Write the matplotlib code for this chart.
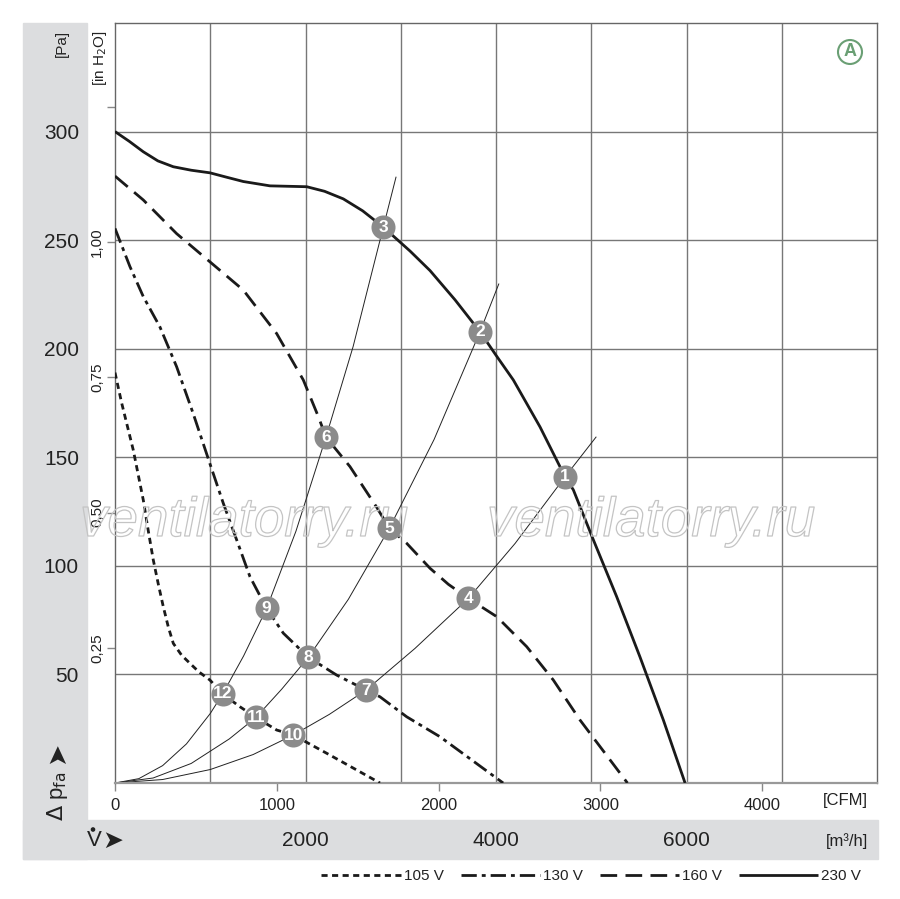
import numpy as np
import matplotlib
matplotlib.use('Agg')
from matplotlib import pyplot as plt
from matplotlib import patheffects
from matplotlib import transforms
from matplotlib.patches import Rectangle, Circle

plt.rcParams['font.family'] = ['Liberation Sans Narrow', 'Liberation Sans', 'DejaVu Sans']

# fan curves, flow in m3/h, static pressure in Pa
q_230 = [0, 150, 297, 450, 612, 800, 997, 1170, 1347, 1627, 1820, 2013, 2200, 2397, 2600, 2817,
         3097, 3307, 3570, 3832, 4000, 4182, 4462, 4725, 4812, 5022, 5267, 5512, 5757, 5985]
p_230 = [300, 295.5, 290.7, 286.5, 283.8, 282.2, 281, 279, 277, 275, 274.8, 274.6, 272.5, 269,
         263.5, 256, 245, 236, 222.5, 207.8, 197, 185.6, 164, 141, 135, 112, 85.8, 58, 29, 0]

q_160 = [0, 297, 647, 997, 1347, 1697, 1977, 2135, 2215, 2467, 2747, 2880, 3062, 3307, 3500,
         3710, 4008, 4322, 4602, 4882, 5380]
p_160 = [279.5, 268.5, 253, 240, 227, 207, 185.6, 168.7, 159.3, 145.7, 127, 117.3, 110.4, 98.9,
         91.5, 85, 76.6, 62.8, 47.4, 29, 0]

q_130 = [0, 157, 297, 472, 647, 822, 997, 1137, 1277, 1417, 1592, 1767, 2030, 2327, 2636,
         2782, 3062, 3412, 4075]
p_130 = [255.4, 237.8, 224, 210, 191.7, 170, 147, 128.8, 112, 95, 80.4, 69, 57.9, 49.7, 42.8,
         39.7, 30.5, 21.3, 0]

q_105 = [0, 70, 192, 297, 350, 402, 455, 507, 560, 612, 700, 787, 880, 997, 1130, 1312, 1480,
         1697, 1872, 2222, 2537, 2782]
p_105 = [189, 175, 153.3, 130.3, 116, 102.7, 91.5, 81.2, 71.8, 64.3, 58.8, 55.1, 51.2, 47.4, 41,
         35.1, 30.2, 24.4, 22.1, 13.7, 6, 0]

# system curves (thin lines)
q_sys1 = [0, 250, 500, 750, 1000, 1130, 1350, 1592, 1900, 2215, 2500, 2817, 2950]
p_sys1 = [0, 2, 8, 18, 32, 41, 58.5, 80.4, 116, 159.3, 201, 256, 279]
q_sys2 = [0, 400, 800, 1200, 1480, 1750, 2030, 2450, 2880, 3350, 3832, 4029]
p_sys2 = [0, 2.3, 9, 20.3, 30.2, 43.2, 57.9, 84.6, 117.3, 158.2, 207.8, 229.8]
q_sys3 = [0, 500, 1000, 1450, 1872, 2250, 2636, 3150, 3710, 4200, 4725, 5050]
p_sys3 = [0, 1.6, 6.2, 13.1, 22.1, 31.6, 42.8, 62, 85, 110.3, 141, 159.3]

# operating points
pt_labels = ['1', '2', '3', '4', '5', '6', '7', '8', '9', '10', '11', '12']
pt_q = [4725, 3832, 2817, 3710, 2880, 2215, 2636, 2030, 1592, 1872, 1480, 1130]
pt_p = [141, 207.8, 256, 85, 117.3, 159.3, 42.8, 57.9, 80.4, 22.1, 30.2, 41]

pa_ticks = [50, 100, 150, 200, 250, 300]
inh2o_ticks = [0.25, 0.5, 0.75, 1.0, 1.25]
inh2o_labels = ['0,25', '0,50', '0,75', '1,00', '']
cfm_ticks = [0, 1000, 2000, 3000, 4000]
m3h_labels = [2000, 4000, 6000]

W, H = 900, 899
fig = plt.figure(figsize=(9, 8.99), dpi=100)

# grey bands
band = '#dcdddf'
fig.patches.append(Rectangle((23 / W, 1 - 859 / H), 64 / W, 836 / H, transform=fig.transFigure,
                             color=band, zorder=-2))
fig.patches.append(Rectangle((23 / W, 1 - 859 / H), 855 / W, 39 / H, transform=fig.transFigure,
                             color=band, zorder=-2))

ax = fig.add_axes([115 / W, 1 - 783 / H, 762 / W, 760 / H])
ax.set_xlim(0, 8000)
ax.set_ylim(0, 350)

for v in range(1000, 8000, 1000):
    ax.axvline(v, color='#777777', lw=1.0, zorder=1)
for v in pa_ticks:
    ax.axhline(v, color='#777777', lw=1.0, zorder=1)

for s in ax.spines.values():
    s.set_color('#666666')
    s.set_linewidth(1.0)
ax.spines['bottom'].set_color('#999999')
ax.spines['bottom'].set_linewidth(1.6)

ax.set_xticks([])
ax.set_yticks(pa_ticks)
ax.set_yticklabels([str(v) for v in pa_ticks], fontsize=15, color='#222222')
ax.tick_params(axis='y', length=0, pad=26)

# system curves
for qs, ps in [(q_sys1, p_sys1), (q_sys2, p_sys2), (q_sys3, p_sys3)]:
    ax.plot(qs, ps, color='#222222', lw=0.7, zorder=2)

ln_kw = dict(color='#1a1a1a', lw=2.0, zorder=3)
l105, = ax.plot(q_105, p_105, dashes=(2.2, 1.6), label='105 V', **ln_kw)
l130, = ax.plot(q_130, p_130, dashes=(5.5, 1.8, 1.4, 1.8), label='130 V', **ln_kw)
l160, = ax.plot(q_160, p_160, dashes=(6.0, 3.0), label='160 V', **ln_kw)
l230, = ax.plot(q_230, p_230, label='230 V', solid_capstyle='butt', **ln_kw)
for l in (l105, l130, l160):
    l.set_dash_capstyle('butt')

ax.scatter(pt_q, pt_p, s=300, color='#8b8b8b', zorder=5, linewidths=0)
for lab, q, p in zip(pt_labels, pt_q, pt_p):
    ax.text(q, p, lab, ha='center', va='center', color='white', fontsize=12.5,
            fontweight='bold', zorder=6)

# watermark, behind the point markers
for xw in [80, 487]:
    ax.text(xw / W, 1 - 522 / H, 'ventilatorry.ru', transform=fig.transFigure, fontsize=39.5,
            style='italic', va='center', family=['Liberation Sans', 'DejaVu Sans'], color='none',
            path_effects=[patheffects.Stroke(linewidth=0.9, foreground='#c4c4c4')], zorder=4,
            clip_on=False)

# A marker
ax.add_patch(Circle((850 / W, 1 - 52 / H), 12 / W, transform=fig.transFigure, fill=False,
                    edgecolor='#6a9f74', lw=1.5, zorder=6))
fig.text(850 / W, 1 - 52 / H, 'A', ha='center', va='center', color='#6a9f74', fontsize=13,
         fontweight='bold')

# CFM secondary axis
sec_x = ax.secondary_xaxis('bottom', functions=(lambda q: q / 1.699, lambda c: c * 1.699))
sec_x.set_xticks(cfm_ticks)
sec_x.set_xticklabels([str(v) for v in cfm_ticks], fontsize=12, color='#222222')
sec_x.tick_params(length=6, width=1, color='#888888', pad=5, direction='out')
sec_x.spines['bottom'].set_visible(False)

# in H2O secondary axis
sec_y = ax.secondary_yaxis('left', functions=(lambda p: p / 249.09, lambda w: w * 249.09))
sec_y.set_yticks(inh2o_ticks)
sec_y.set_yticklabels(inh2o_labels, fontsize=11, color='#222222', rotation=90, va='center')
sec_y.tick_params(length=6, width=1, color='#888888', pad=2)
sec_y.spines['left'].set_visible(False)

# m3/h labels in the grey band
band_tr = transforms.blended_transform_factory(ax.transData, fig.transFigure)
for v in m3h_labels:
    ax.text(v, 1 - 840 / H, str(v), transform=band_tr, ha='center', va='center', fontsize=15,
            color='#222222', clip_on=False)

fig.text(868 / W, 1 - 801 / H, '[CFM]', ha='right', va='center', fontsize=12, color='#222222')
fig.text(868 / W, 1 - 841 / H, '[m³/h]', ha='right', va='center', fontsize=12, color='#222222')

# flow symbol with dot and arrow
fig.text(87 / W, 1 - 841 / H, 'V', ha='left', va='center', fontsize=16, color='#222222')
fig.patches.append(Circle((93 / W, 1 - 829.5 / H), 1.6 / W, transform=fig.transFigure,
                          color='#222222', zorder=3))
fig.text(102 / W, 1 - 841 / H, '\u27a4', ha='left', va='center', fontsize=18, color='#222222',
         family=['DejaVu Sans'])

# pressure symbol with arrow
fig.text(58 / W, 1 - 821 / H, r'$\Delta$ p$_{\mathrm{fa}}$', rotation=90, ha='center',
         va='bottom', fontsize=16, color='#222222', family=['Liberation Sans', 'DejaVu Sans'])
fig.text(57 / W, 1 - 764 / H, '\u27a4', rotation=90, ha='center', va='bottom', fontsize=19,
         color='#222222', family=['DejaVu Sans'])

fig.text(62 / W, 1 - 30 / H, '[Pa]', rotation=90, ha='center', va='top', fontsize=11,
         color='#222222')
fig.text(100 / W, 1 - 30 / H, r'[in H$_2$O]', rotation=90, ha='center', va='top', fontsize=11,
         color='#222222')

fig.legend(handles=[l105, l130, l160, l230], loc='center right', ncol=4, frameon=False,
           bbox_to_anchor=(869 / W, 1 - 876 / H), fontsize=11, handlelength=5.2,
           handletextpad=0.2, columnspacing=1.1, borderpad=0, labelcolor='#222222')

fig.savefig('out.png', dpi=100)
